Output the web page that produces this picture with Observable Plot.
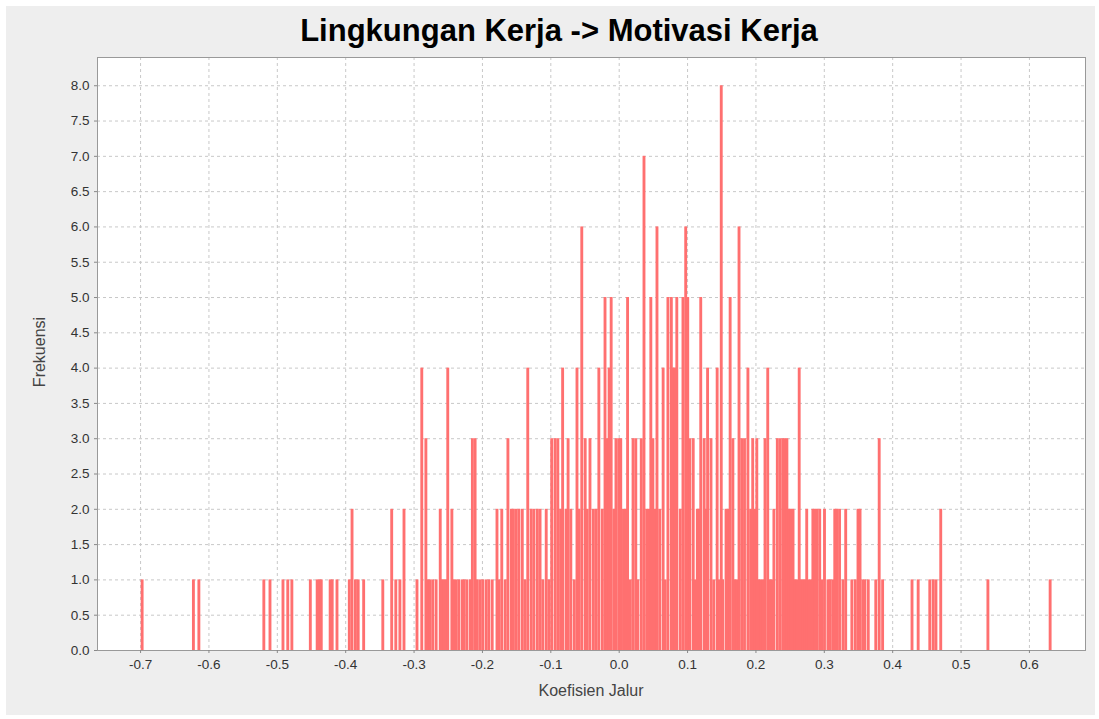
<!DOCTYPE html>
<html><head><meta charset="utf-8">
<script src="https://cdn.jsdelivr.net/npm/d3@7"></script>
<script src="https://cdn.jsdelivr.net/npm/@observablehq/plot@0.6"></script>
<style>
html,body{margin:0;padding:0;background:#fff;width:1099px;height:719px;overflow:hidden;}
#panel{position:absolute;left:6px;top:6px;width:1089px;height:709px;background:#eeeeee;}
#title{position:absolute;left:0;top:13px;width:1118px;text-align:center;font:bold 31px "Liberation Sans",Arial,sans-serif;color:#000;}
#chart{position:absolute;left:0;top:0;}
#xlab{position:absolute;left:0;width:1182px;top:682px;text-align:center;font:16px "Liberation Sans",Arial,sans-serif;color:#444;}
#ylab{position:absolute;left:40px;top:352px;font:16px "Liberation Sans",Arial,sans-serif;color:#444;transform:translate(-50%,-50%) rotate(-90deg);white-space:nowrap;}
</style></head>
<body>
<div id="panel"></div>
<div id="chart"></div>
<div id="title"></div>
<div id="xlab"></div>
<div id="ylab"></div>
<script>
const chartTitle = "Lingkungan Kerja -> Motivasi Kerja";
const xLabel = "Koefisien Jalur";
const yLabel = "Frekuensi";
const xTicks = [-0.7,-0.6,-0.5,-0.4,-0.3,-0.2,-0.1,0.0,0.1,0.2,0.3,0.4,0.5,0.6];
const yTicks = [0,0.5,1,1.5,2,2.5,3,3.5,4,4.5,5,5.5,6,6.5,7,7.5,8];
const binWidth = 0.0042;
const coef = [
-0.697,-0.622,-0.614,-0.519,-0.510,-0.491,-0.484,-0.478,-0.451,-0.441,-0.438,-0.435,-0.422,-0.419,-0.412,
-0.394,-0.390,-0.385,-0.381,-0.373,-0.345,-0.332,-0.326,-0.320,-0.314,-0.295,-0.288,-0.282,-0.279,-0.276,
-0.272,-0.267,-0.261,-0.258,-0.256,-0.253,-0.250,-0.244,-0.241,-0.238,-0.234,-0.229,-0.226,-0.222,-0.217,
-0.214,-0.210,-0.207,-0.203,-0.199,-0.194,-0.190,-0.185,-0.178,-0.175,-0.171,-0.166,-0.162,-0.157,-0.154,
-0.150,-0.146,-0.141,-0.137,-0.133,-0.128,-0.124,-0.119,-0.115,-0.111,-0.106,-0.102,-0.098,-0.093,-0.089,
-0.085,-0.082,-0.077,-0.074,-0.070,-0.065,-0.061,-0.058,-0.054,-0.049,-0.046,-0.042,-0.037,-0.033,-0.029,
-0.024,-0.020,-0.017,-0.014,-0.011,-0.007,-0.004,0.000,0.003,0.007,0.010,0.013,0.017,0.021,0.025,
0.028,0.033,0.037,0.041,0.044,0.047,0.050,0.053,0.056,0.060,0.065,0.068,0.072,0.077,0.079,
0.082,0.085,0.090,0.094,0.098,0.101,0.104,0.109,0.112,0.115,0.117,0.120,0.125,0.128,0.130,
0.135,0.139,0.144,0.147,0.150,0.152,0.157,0.160,0.163,0.167,0.170,0.173,0.176,0.180,0.184,
0.189,0.193,0.196,0.199,0.202,0.205,0.208,0.211,0.214,0.218,0.221,0.224,0.227,0.232,0.236,
0.240,0.243,0.246,0.249,0.252,0.255,0.258,0.261,0.264,0.267,0.270,0.272,0.275,0.278,0.281,
0.284,0.287,0.290,0.294,0.297,0.301,0.306,0.309,0.313,0.316,0.319,0.323,0.328,0.332,0.341,
0.346,0.350,0.353,0.357,0.360,0.365,0.376,0.381,0.386,0.429,0.438,0.455,0.460,0.464,0.471,
0.540,0.631];
const freq = [
1,1,1,1,1,1,1,1,1,1,1,1,1,1,1,
1,2,1,1,1,1,2,1,1,2,1,4,3,1,1,
1,1,2,1,1,1,4,2,1,1,1,1,1,1,1,
3,3,1,1,1,1,1,1,2,1,2,1,3,2,2,
2,2,2,1,4,2,2,2,2,1,2,1,3,3,3,
2,4,2,3,2,1,4,2,6,3,2,3,2,2,4,
2,5,3,4,5,2,3,3,3,2,2,5,1,3,3,
1,3,7,2,2,5,3,2,6,2,4,1,5,5,4,
4,5,2,5,6,5,3,3,1,2,2,5,3,2,4,
3,1,4,1,8,1,2,2,5,3,1,1,6,3,3,
4,2,3,2,3,1,1,1,3,4,1,1,2,3,3,
3,3,3,2,2,2,1,1,4,1,1,1,2,1,1,
2,2,2,2,1,2,1,1,1,2,2,2,1,2,1,
1,2,2,1,1,1,1,3,1,1,1,1,1,1,2,
1,1];
const bins = coef.map((c, i) => ({x1: c - binWidth/2, x2: c + binWidth/2, freq: freq[i]}));
const fmt = d => d.toFixed(1);
const chart = Plot.plot({
  width: 1099, height: 719,
  marginLeft: 97, marginRight: 14, marginTop: 57, marginBottom: 69,
  style: {background: "transparent", fontFamily: "'Liberation Sans', Arial, sans-serif", fontSize: "13px", color: "#444"},
  x: {domain: [-0.763, 0.682]},
  y: {domain: [0, 8.4]},
  marks: [
    Plot.frame({fill: "white"}),
    Plot.gridX(xTicks, {stroke: "#c8c8c8", strokeOpacity: 1, strokeDasharray: "3,3"}),
    Plot.gridY(yTicks, {stroke: "#c8c8c8", strokeOpacity: 1, strokeDasharray: "3,3"}),
    Plot.rectY(bins, {x1: "x1", x2: "x2", y: "freq", fill: "#ff7070"}),
    Plot.frame({stroke: "#999"}),
    Plot.axisX(xTicks, {tickFormat: fmt, tickSize: 3, tickPadding: 6, stroke: "#888", fill: "#333", label: null, fontSize: 13.5}),
    Plot.axisY(yTicks, {tickFormat: fmt, tickSize: 3, tickPadding: 5, stroke: "#888", fill: "#333", label: null, fontSize: 13.5})
  ]
});
document.getElementById("chart").appendChild(chart);
document.getElementById("title").textContent = chartTitle;
document.getElementById("xlab").textContent = xLabel;
document.getElementById("ylab").textContent = yLabel;
</script>
</body></html>
